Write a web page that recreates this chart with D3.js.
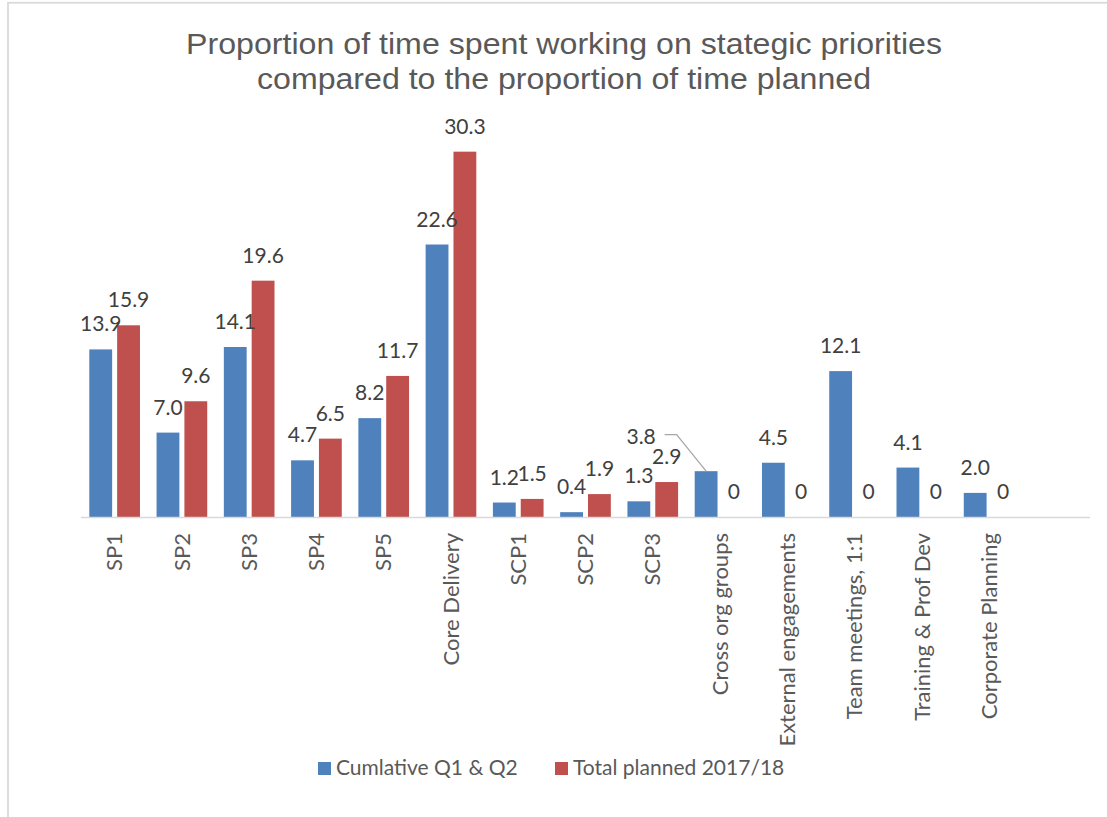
<!DOCTYPE html>
<html>
<head>
<meta charset="utf-8">
<script src="https://cdn.jsdelivr.net/npm/d3@7"></script>
<style>
  body { margin: 0; background: #fff; }
  svg { display: block; }
</style>
</head>
<body>
<div id="chart"></div>
<script>
// data
var categories = ["SP1", "SP2", "SP3", "SP4", "SP5", "Core Delivery", "SCP1", "SCP2", "SCP3",
  "Cross org groups", "External engagements", "Team meetings, 1:1", "Training & Prof Dev", "Corporate Planning"];
var cumulative = [13.9, 7.0, 14.1, 4.7, 8.2, 22.6, 1.2, 0.4, 1.3, 3.8, 4.5, 12.1, 4.1, 2.0];
var planned = [15.9, 9.6, 19.6, 6.5, 11.7, 30.3, 1.5, 1.9, 2.9, 0, 0, 0, 0, 0];
var seriesNames = ["Cumlative Q1 & Q2", "Total planned 2017/18"];
var titleLines = ["Proportion of time spent working on stategic priorities",
  "compared to the proportion of time planned"];

var svgWidth = 1107;
var svgHeight = 817;
var colors = ["#4f81bd", "#c0504d"];
var textColor = "#595959";
var labelFont = "Lato, 'Open Sans', sans-serif";

var svg = d3.select("#chart")
  .append("svg")
  .attr("width", svgWidth)
  .attr("height", svgHeight);

// chart frame (only top and left edges are inside the picture)
svg.append("rect")
  .attr("x", 8)
  .attr("y", 2.75)
  .attr("width", svgWidth + 20)
  .attr("height", svgHeight + 20)
  .attr("fill", "none")
  .attr("stroke", "#d9d9d9")
  .attr("stroke-width", 1.75);

// title (condensed in the original)
var titleWidths = [756, 614];
svg.selectAll("text.title")
  .data(titleLines)
  .enter()
  .append("text")
  .attr("class", "title")
  .attr("x", 564)
  .attr("y", (d, i) => 54 + i * 35)
  .attr("text-anchor", "middle")
  .attr("font-family", "'Liberation Sans', Arial, sans-serif")
  .attr("font-size", "29px")
  .attr("fill", textColor)
  .attr("textLength", (d, i) => titleWidths[i])
  .attr("lengthAdjust", "spacingAndGlyphs")
  .text(d => d);

// scales: one empty slot at the end, like the original axis
var xScale = d3.scaleBand()
  .domain(categories.concat([" "]))
  .range([81, 1090]);

var xInner = d3.scaleBand()
  .domain([0, 1])
  .range([8.3, xScale.bandwidth() - 8.3])
  .paddingInner(0.18);

var yScale = d3.scaleLinear()
  .domain([0, 35])
  .range([517, 95]);

var rows = categories.map((c, i) => ({ cat: c, values: [cumulative[i], planned[i]] }));

var groups = svg.selectAll("g.cat")
  .data(rows)
  .enter()
  .append("g")
  .attr("class", "cat")
  .attr("transform", d => `translate(${xScale(d.cat)},0)`);

groups.selectAll("rect")
  .data(d => d.values.map((v, s) => ({ v: v, s: s })))
  .enter()
  .append("rect")
  .attr("x", d => xInner(d.s))
  .attr("width", xInner.bandwidth())
  .attr("y", d => yScale(d.v))
  .attr("height", d => yScale(0) - yScale(d.v))
  .attr("fill", d => colors[d.s]);

// x axis line
svg.append("line")
  .attr("x1", xScale.range()[0])
  .attr("x2", xScale.range()[1])
  .attr("y1", yScale(0) + 0.5)
  .attr("y2", yScale(0) + 0.5)
  .attr("stroke", "#d9d9d9")
  .attr("stroke-width", 1.5);

// data labels; "3.8" was dragged left with a leader line in the original
var moved = { cat: "Cross org groups", s: 0, dx: -65, dy: -9 };
var isMoved = d => d.cat === moved.cat && d.s === moved.s;

groups.selectAll("text.val")
  .data(d => d.values.map((v, s) => ({ v: v, s: s, cat: d.cat })))
  .enter()
  .append("text")
  .attr("class", "val")
  .attr("x", d => xInner(d.s) + xInner.bandwidth() / 2 + (isMoved(d) ? moved.dx : 0))
  .attr("y", d => yScale(d.v) - 18 + (isMoved(d) ? moved.dy : 0))
  .attr("text-anchor", "middle")
  .attr("font-family", labelFont)
  .attr("font-size", "21px")
  .attr("fill", "#404040")
  .text(d => d.v === 0 ? "0" : d.v.toFixed(1));

// leader line for the moved label
var mi = categories.indexOf(moved.cat);
var barTopX = xScale(moved.cat) + xInner(moved.s) + xInner.bandwidth() / 2;
var barTopY = yScale(cumulative[mi]);
svg.append("polyline")
  .attr("points", [
    [barTopX - 41.5, barTopY - 36.5],
    [barTopX - 29.5, barTopY - 36.5],
    [barTopX, barTopY]
  ].join(" "))
  .attr("fill", "none")
  .attr("stroke", "#a6a6a6")
  .attr("stroke-width", 1.25);

// category labels, rotated
svg.selectAll("text.cat-label")
  .data(categories)
  .enter()
  .append("text")
  .attr("class", "cat-label")
  .attr("transform", d => `translate(${xScale(d) + xScale.bandwidth() / 2},533) rotate(-90)`)
  .attr("dy", "0.35em")
  .attr("text-anchor", "end")
  .attr("font-family", labelFont)
  .attr("font-size", "22px")
  .attr("fill", textColor)
  .text(d => d);

// legend
var legendX = [318, 555];
var legend = svg.selectAll("g.legend")
  .data(seriesNames)
  .enter()
  .append("g")
  .attr("class", "legend")
  .attr("transform", (d, i) => `translate(${legendX[i]},762)`);

legend.append("rect")
  .attr("width", 13)
  .attr("height", 13)
  .attr("fill", (d, i) => colors[i]);

legend.append("text")
  .attr("x", 18)
  .attr("y", 12.5)
  .attr("font-family", labelFont)
  .attr("font-size", "21px")
  .attr("fill", textColor)
  .text(d => d);
</script>
</body>
</html>
